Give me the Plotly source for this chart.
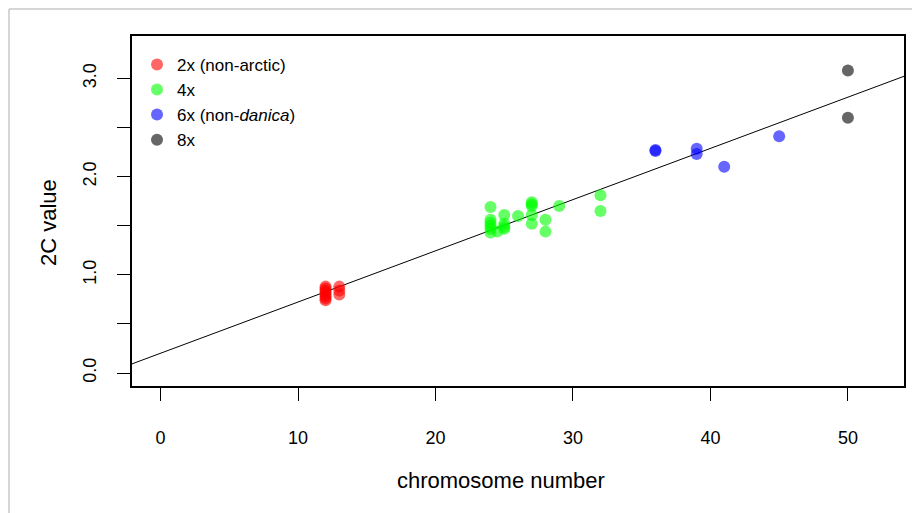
import numpy as np
import plotly.graph_objects as go

# ---- data ----
x_2x = [12, 12, 12, 12, 12, 12, 12, 12, 13, 13, 13]
y_2x = [0.74, 0.76, 0.78, 0.80, 0.82, 0.84, 0.86, 0.88, 0.80, 0.84, 0.88]

x_4x = [24, 24, 24, 24, 24, 24, 24.5, 25, 25, 25, 25, 26,
        27, 27, 27, 27, 27, 28, 28, 29, 32, 32]
y_4x = [1.69, 1.56, 1.53, 1.50, 1.47, 1.43, 1.44, 1.61, 1.52, 1.49, 1.47, 1.60,
        1.74, 1.72, 1.70, 1.61, 1.52, 1.56, 1.44, 1.70, 1.81, 1.65]

x_6x = [36, 36, 39, 39, 41, 45]
y_6x = [2.27, 2.26, 2.285, 2.23, 2.10, 2.41]

x_8x = [50, 50]
y_8x = [3.08, 2.60]

series_names = ["2x (non-arctic)", "4x", "6x (non-<i>danica</i>)", "8x"]
series_colors = ["rgba(255,0,0,0.6)", "rgba(0,255,0,0.6)", "rgba(0,0,255,0.6)", "rgba(0,0,0,0.6)"]

x_title = "chromosome number"
y_title = "2C value"
x_ticks = [0, 10, 20, 30, 40, 50]
y_ticks = [0, 0.5, 1.0, 1.5, 2.0, 2.5, 3.0]
y_ticktext = ["0.0", "", "1.0", "", "2.0", "", "3.0"]

x_lim = [0, 52]
y_lim = [0, 3.3]
x_range = [x_lim[0] - 0.04 * (x_lim[1] - x_lim[0]), x_lim[1] + 0.04 * (x_lim[1] - x_lim[0])]
y_range = [y_lim[0] - 0.04 * (y_lim[1] - y_lim[0]), y_lim[1] + 0.04 * (y_lim[1] - y_lim[0])]

# regression of all points
all_x = np.array(x_2x + x_4x + x_6x + x_8x, dtype=float)
all_y = np.array(y_2x + y_4x + y_6x + y_8x, dtype=float)
slope, intercept = np.polyfit(all_x, all_y, 1)

FONT = "Liberation Sans, Arial, Helvetica, sans-serif"

ML, MR, MT, MB = 124, 24, 28, 135
W, H = 920, 513
PW, PH = W - ML - MR, H - MT - MB

fig = go.Figure()
fig.add_trace(go.Scatter(
    x=list(x_range), y=[intercept + slope * v for v in x_range],
    mode="lines", line=dict(color="black", width=1), showlegend=False, hoverinfo="skip"))

for xs, ys, name, col in zip([x_2x, x_4x, x_6x, x_8x], [y_2x, y_4x, y_6x, y_8x],
                             series_names, series_colors):
    fig.add_trace(go.Scatter(
        x=xs, y=ys, mode="markers", name=name,
        marker=dict(color=col, size=12, line=dict(width=0))))

# frame around the image (light gray), at the figure's top-left edge
bx = (1 - ML) / PW
by = 1 + (MT - 1) / PH

title_font = dict(family=FONT, size=22, color="black")

fig.update_layout(
    width=W, height=H,
    margin=dict(l=ML, r=MR, t=MT, b=MB),
    paper_bgcolor="white", plot_bgcolor="white",
    font=dict(family=FONT, size=18, color="black"),
    showlegend=True,
    legend=dict(x=0.0065, y=0.969, xanchor="left", yanchor="top",
                bgcolor="rgba(0,0,0,0)", borderwidth=0,
                font=dict(family=FONT, size=17), tracegroupgap=0, itemwidth=30),
    xaxis=dict(range=x_range, tickvals=x_ticks, ticks="outside", ticklen=13,
               tickwidth=1, tickcolor="black", showgrid=False, zeroline=False,
               showline=True, linecolor="black", linewidth=1.5, mirror=True,
               ticklabelstandoff=22),
    yaxis=dict(range=y_range, tickvals=y_ticks, ticktext=y_ticktext, ticks="outside",
               ticklen=13, tickwidth=1, tickcolor="black", tickangle=-90,
               showgrid=False, zeroline=False,
               showline=True, linecolor="black", linewidth=1.5, mirror=True,
               ticklabelstandoff=14),
    annotations=[
        dict(text=x_title, xref="paper", yref="paper", x=0.478, y=-94 / PH,
             xanchor="center", yanchor="middle", showarrow=False, font=title_font),
        dict(text=y_title, xref="paper", yref="paper", x=-84 / PW, y=1 - 187 / PH,
             xanchor="center", yanchor="middle", showarrow=False, textangle=-90,
             font=title_font),
    ],
    shapes=[
        dict(type="line", xref="paper", yref="paper", x0=bx, x1=1.2, y0=by, y1=by,
             line=dict(color="#c8c8c8", width=1.5)),
        dict(type="line", xref="paper", yref="paper", x0=bx, x1=bx, y0=by, y1=-0.6,
             line=dict(color="#c8c8c8", width=1.5)),
    ],
)

fig.write_html("out.html")
